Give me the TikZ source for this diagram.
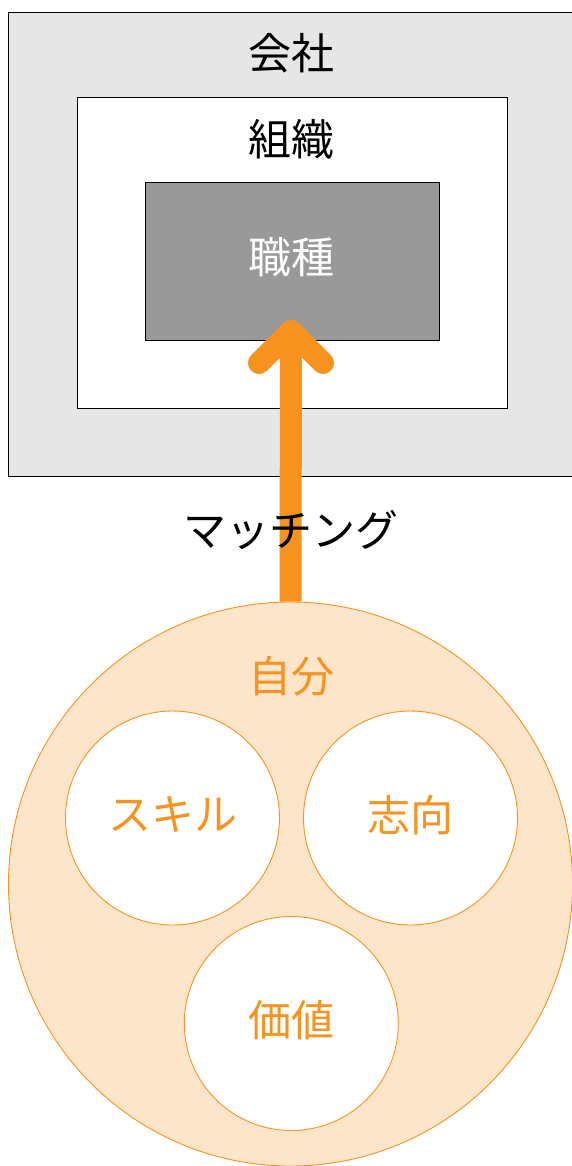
\documentclass[tikz,border=0pt]{standalone}
\usepackage{fontspec}
\setmainfont{Noto Sans CJK JP}
\definecolor{orng}{RGB}{247,147,30}
\definecolor{peach}{RGB}{253,229,201}
\definecolor{lgray}{RGB}{230,230,230}
\definecolor{dgray}{RGB}{153,153,153}
\tikzset{
  box/.style={draw=black, line width=1pt, inner sep=0pt},
  lbl/.style={font=\fontsize{43}{50}\selectfont, inner sep=0pt, anchor=center},
  ring/.style={circle, draw=orng, line width=0.9pt, inner sep=0pt},
  arrowline/.style={draw=orng, line width=22pt},
}
\begin{document}
\begin{tikzpicture}[x=1pt,y=-1pt]
\useasboundingbox (0,0) rectangle (571,1166);
\fill[white] (0,0) rectangle (571,1166);
% company
\node[box, fill=lgray, minimum width=568pt, minimum height=464pt, anchor=north west] (company) at (8,12) {};
\node[box, fill=white, minimum width=430pt, minimum height=311pt, anchor=north west] (org) at (76.5,97) {};
\node[box, fill=dgray, minimum width=294pt, minimum height=158pt, anchor=north west] (job) at (144.5,182) {};
\node[lbl] (tcompany) at (291,53) {会社};
\node[lbl] (torg) at (291,139) {組織};
\node[lbl, text=white] (tjob) at (291,257) {職種};
% self
\node[ring, fill=peach, minimum size=564pt] (self) at (290.5,884) {};
\node[ring, fill=white, minimum size=214pt] (skill) at (172.5,818) {};
\node[ring, fill=white, minimum size=214pt] (will) at (410.5,818) {};
\node[ring, fill=white, minimum size=214pt] (value) at (291.3,1023.5) {};
\node[lbl, text=orng] (tself) at (291,676) {自分};
\node[lbl, text=orng] (tskill) at (172.5,814) {スキル};
\node[lbl, text=orng] (twill) at (410.5,815) {志向};
\node[lbl, text=orng] (tvalue) at (291.3,1020) {価値};
% arrow
\coordinate (tip) at (291,331);
\draw[arrowline, line cap=butt] (self.north) -- (tip);
\draw[arrowline, line cap=round, line join=round] ([shift={(-32,32)}]tip) -- (tip) -- ([shift={(32,32)}]tip);
\node[lbl] (match) at (291,530) {マッチング};
\end{tikzpicture}
\end{document}
